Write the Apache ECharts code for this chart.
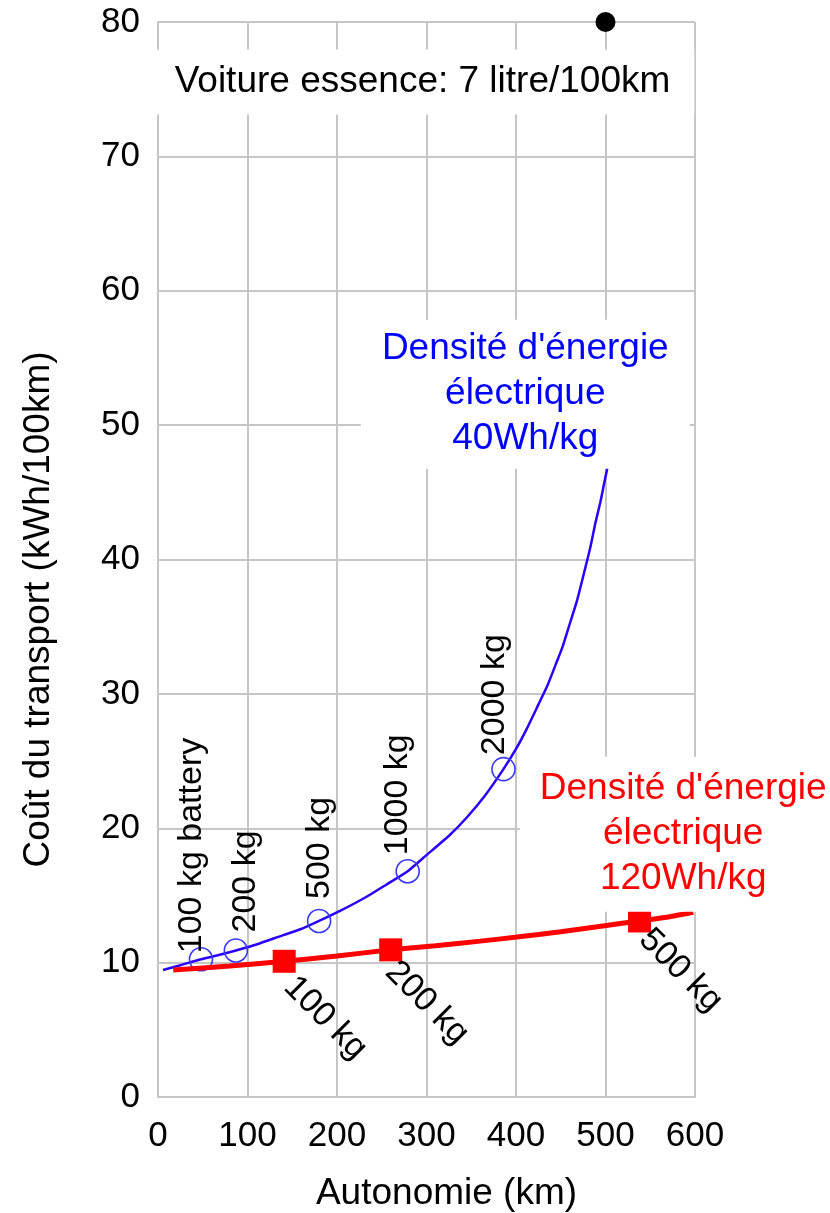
<!DOCTYPE html>
<html><head><meta charset="utf-8">
<script src="https://cdn.jsdelivr.net/npm/echarts@6/dist/echarts.min.js"></script>
<style>html,body{margin:0;padding:0;background:#fff}#c{width:830px;height:1213px}</style>
</head><body><div id="c"></div>
<script>
// ---------- data ----------
const xTicks = [0, 100, 200, 300, 400, 500, 600];
const yTicks = [0, 10, 20, 30, 40, 50, 60, 70, 80];
const xName = 'Autonomie (km)';
const yName = 'Coût du transport (kWh/100km)';

// blue curve (40 Wh/kg)
const blueCurveX = [5.6, 25, 48, 70, 87, 110, 140, 160, 180, 205, 233, 255, 279, 300, 326, 345, 365, 386, 400, 412, 425, 435, 445, 452, 460, 468, 476, 483, 489, 494, 498, 502];
const blueCurveY = [9.45, 9.8, 10.25, 10.6, 10.9, 11.35, 12.05, 12.5, 13.1, 13.9, 14.9, 15.8, 16.8, 18.0, 19.5, 20.8, 22.4, 24.4, 25.9, 27.4, 29.2, 30.6, 32.3, 33.5, 35.2, 36.9, 39.0, 40.9, 42.8, 44.2, 45.5, 46.8];
const blueMarkX = [48, 87, 180, 279, 386];
const blueMarkY = [10.25, 10.9, 13.1, 16.8, 24.4];
const blueMarkLabels = ['100 kg battery', '200 kg', '500 kg', '1000 kg', '2000 kg'];
const blueNote = ["Densité d'énergie", 'électrique', '40Wh/kg'];

// red curve (120 Wh/kg)
const redCurveX = [17, 80, 141, 200, 260, 310, 360, 401, 450, 499, 538, 570, 598];
const redCurveY = [9.45, 9.75, 10.1, 10.5, 10.95, 11.25, 11.6, 11.9, 12.3, 12.75, 13.1, 13.4, 13.75];
const redMarkX = [141, 260, 538];
const redMarkY = [10.1, 10.95, 13.1];
const redMarkLabels = ['100 kg', '200 kg', '500 kg'];
const redNote = ["Densité d'énergie", 'électrique', '120Wh/kg'];

// petrol car
const carX = [500];
const carY = [80];
const carLabel = 'Voiture essence: 7 litre/100km';

// ---------- layout / style ----------
const FONT = "'Liberation Sans', Arial, Helvetica, sans-serif";
const GRID_COLOR = '#c6c6c6';
const blueLabelOffsets = [[6, -9], [18, 10], [22, 1], [16, -10], [14, -9]];
const redLabelOffsets = [[18, 11], [12, 12], [13, 6]];

const pairs = (xs, ys) => xs.map((x, i) => [x, ys[i]]);
const last = a => a[a.length - 1];

const chart = echarts.init(document.getElementById('c'), null, {renderer: 'canvas'});
chart.setOption({
  animation: false,
  backgroundColor: '#fff',
  grid: {left: 158, right: 135, top: 22, bottom: 116, containLabel: false, outerBoundsMode: 'none'},
  xAxis: {
    type: 'value', min: xTicks[0], max: last(xTicks), interval: xTicks[1] - xTicks[0],
    axisLine: {lineStyle: {color: GRID_COLOR, width: 2}},
    axisTick: {show: false},
    splitLine: {lineStyle: {color: GRID_COLOR, width: 2}},
    axisLabel: {fontSize: 35, color: '#000', margin: 22, fontFamily: FONT},
    name: xName, nameLocation: 'middle', nameGap: 78,
    nameTextStyle: {fontSize: 37, color: '#000', fontFamily: FONT, padding: [0, 0, 0, 40]}
  },
  yAxis: {
    type: 'value', min: yTicks[0], max: last(yTicks), interval: yTicks[1] - yTicks[0],
    axisLine: {show: true, lineStyle: {color: GRID_COLOR, width: 2}},
    axisTick: {show: false},
    splitLine: {lineStyle: {color: GRID_COLOR, width: 2}},
    axisLabel: {fontSize: 35, color: '#000', margin: 18, fontFamily: FONT},
    name: yName, nameLocation: 'middle', nameGap: 101,
    nameTextStyle: {fontSize: 37, color: '#000', fontFamily: FONT, padding: [0, 100, 0, 0]}
  },
  series: [
    {
      type: 'line', data: pairs(blueCurveX, blueCurveY), smooth: 0.2,
      showSymbol: false, lineStyle: {color: '#2a00ff', width: 2.5}, z: 3, silent: true
    },
    {
      type: 'scatter', data: blueMarkX.map((x, i) => ({
        value: [x, blueMarkY[i]], name: blueMarkLabels[i],
        label: {offset: blueLabelOffsets[i]}
      })),
      symbol: 'circle', symbolSize: 23,
      itemStyle: {color: 'rgba(0,0,0,0)', borderColor: '#3a3aff', borderWidth: 1.6, opacity: 1},
      label: {
        show: true, formatter: p => p.name, position: 'inside', align: 'left', verticalAlign: 'middle',
        rotate: 90, fontSize: 34, color: '#000', fontFamily: FONT, opacity: 1
      },
      z: 4, silent: true
    },
    {
      type: 'line', data: pairs(redCurveX, redCurveY), smooth: 0.2,
      showSymbol: false, lineStyle: {color: '#ff0000', width: 5}, z: 5, silent: true
    },
    {
      type: 'scatter', data: redMarkX.map((x, i) => ({
        value: [x, redMarkY[i]], name: redMarkLabels[i],
        label: {offset: redLabelOffsets[i]}
      })),
      symbol: 'rect', symbolSize: 23, itemStyle: {color: '#ff0000', opacity: 1},
      label: {
        show: true, formatter: p => p.name, position: 'inside', align: 'left', verticalAlign: 'middle',
        rotate: -45, fontSize: 34, color: '#000', fontFamily: FONT, opacity: 1
      },
      z: 6, silent: true
    },
    {
      type: 'scatter', data: pairs(carX, carY), clip: false,
      symbol: 'circle', symbolSize: 20, itemStyle: {color: '#000', opacity: 1},
      label: {
        show: true, formatter: carLabel, position: 'inside', align: 'center', verticalAlign: 'middle',
        offset: [-183, 60], fontSize: 37, lineHeight: 45, color: '#000', fontFamily: FONT,
        backgroundColor: '#fff', padding: [10, 24], opacity: 1
      },
      z: 10, silent: true
    },
    {
      type: 'scatter', data: [[last(blueCurveX), last(blueCurveY)]], clip: false,
      symbolSize: 1, itemStyle: {color: 'rgba(0,0,0,0)', opacity: 1},
      label: {
        show: true, formatter: blueNote.join('\n'), position: 'inside', align: 'center', verticalAlign: 'middle',
        offset: [-82, -74], fontSize: 37, lineHeight: 45, color: '#0000ff', fontFamily: FONT,
        backgroundColor: '#fff', padding: [8, 21, 6, 21], opacity: 1
      },
      z: 10, silent: true
    },
    {
      type: 'scatter', data: [[last(redCurveX), last(redCurveY)]], clip: false,
      symbolSize: 1, itemStyle: {color: 'rgba(0,0,0,0)', opacity: 1},
      label: {
        show: true, formatter: redNote.join('\n'), position: 'inside', align: 'center', verticalAlign: 'middle',
        offset: [-10, -78], fontSize: 37, lineHeight: 45, color: '#ff0000', fontFamily: FONT,
        backgroundColor: '#fff', padding: [13, 20, 7, 20], opacity: 1
      },
      z: 10, silent: true
    }
  ]
});
</script></body></html>
